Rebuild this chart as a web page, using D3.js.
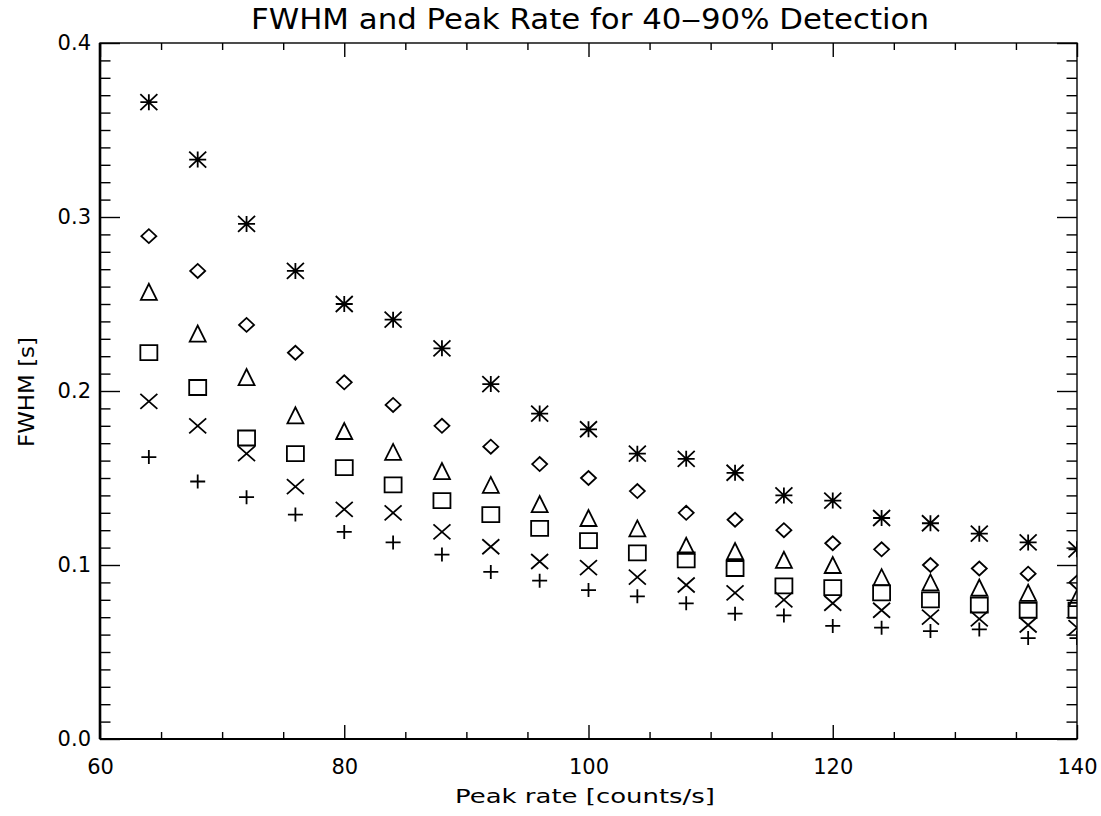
<!DOCTYPE html>
<html>
<head>
<meta charset="utf-8">
<script src="https://d3js.org/d3.v7.min.js"></script>
<style>
  body { margin: 0; background: #fff; }
  text { font-family: "DejaVu Sans", sans-serif; fill: #000; }
</style>
</head>
<body>
<svg id="chart"></svg>
<script>
// peak rate (counts/s) for every column of markers
var peakRate = [64, 68, 72, 76, 80, 84, 88, 92, 96, 100, 104, 108, 112, 116, 120, 124, 128, 132, 136, 140]

// FWHM [s] per symbol
var fwhmAsterisk = [0.366, 0.333, 0.296, 0.269, 0.250, 0.241, 0.2245, 0.204, 0.187, 0.178, 0.164, 0.161, 0.153, 0.140, 0.137, 0.127, 0.124, 0.118, 0.113, 0.109]
var fwhmDiamond  = [0.289, 0.269, 0.238, 0.222, 0.205, 0.192, 0.180, 0.168, 0.158, 0.150, 0.1425, 0.130, 0.126, 0.120, 0.1125, 0.109, 0.100, 0.098, 0.095, 0.090]
var fwhmTriangle = [0.257, 0.233, 0.208, 0.186, 0.177, 0.165, 0.154, 0.146, 0.135, 0.127, 0.121, 0.111, 0.108, 0.103, 0.100, 0.093, 0.090, 0.087, 0.084, 0.081]
var fwhmSquare   = [0.222, 0.202, 0.173, 0.164, 0.156, 0.146, 0.137, 0.129, 0.121, 0.114, 0.107, 0.103, 0.098, 0.088, 0.087, 0.084, 0.080, 0.077, 0.074, 0.074]
var fwhmCross    = [0.194, 0.180, 0.164, 0.145, 0.132, 0.130, 0.119, 0.1105, 0.102, 0.0985, 0.093, 0.0885, 0.084, 0.080, 0.078, 0.074, 0.070, 0.069, 0.0655, 0.064]
var fwhmPlus     = [0.162, 0.148, 0.139, 0.129, 0.119, 0.113, 0.106, 0.096, 0.091, 0.0856, 0.082, 0.078, 0.072, 0.071, 0.065, 0.064, 0.062, 0.063, 0.058, 0.058]

var xMajorTicks = [60, 80, 100, 120, 140]
var yMajorTicks = [0.0, 0.1, 0.2, 0.3, 0.4]

var titleText = "FWHM and Peak Rate for 40\u201290% Detection"
var xLabelText = "Peak rate [counts/s]"
var yLabelText = "FWHM [s]"

var dimensions = {
  width: 1101,
  height: 816,
  margin: { top: 43, right: 24, bottom: 77, left: 100 }
}
dimensions.boundedWidth = dimensions.width - dimensions.margin.left - dimensions.margin.right
dimensions.boundedHeight = dimensions.height - dimensions.margin.top - dimensions.margin.bottom

var series = [
  { values: fwhmAsterisk, shape: "asterisk", hx: 8.5, hy: 8 },
  { values: fwhmDiamond, shape: "diamond", hx: 7.5, hy: 7 },
  { values: fwhmTriangle, shape: "triangle", hx: 8, hy: 8 },
  { values: fwhmSquare, shape: "square", hx: 8.5, hy: 7.5 },
  { values: fwhmCross, shape: "cross", hx: 8.5, hy: 7.5 },
  { values: fwhmPlus, shape: "plus", hx: 7.5, hy: 7 }
]

function symbolPath(shape, hx, hy) {
  var plus = "M" + (-hx) + ",0H" + hx + "M0," + (-hy) + "V" + hy
  var cross = "M" + (-hx) + "," + (-hy) + "L" + hx + "," + hy + "M" + (-hx) + "," + hy + "L" + hx + "," + (-hy)
  if (shape == "plus") return plus
  if (shape == "cross") return cross
  if (shape == "asterisk") return plus + cross
  if (shape == "diamond") return "M" + (-hx) + ",0L0," + (-hy) + "L" + hx + ",0L0," + hy + "Z"
  if (shape == "triangle") return "M" + (-hx) + "," + hy + "L0," + (-hy) + "L" + hx + "," + hy + "Z"
  return "M" + (-hx) + "," + (-hy) + "H" + hx + "V" + hy + "H" + (-hx) + "Z"
}

var xScale = d3.scaleLinear()
  .domain([60, 140])
  .range([0, dimensions.boundedWidth])

var yScale = d3.scaleLinear()
  .domain([0, 0.4])
  .range([dimensions.boundedHeight, 0])

var svg = d3.select("#chart")
  .attr("width", dimensions.width)
  .attr("height", dimensions.height)

svg.append("rect")
  .attr("width", dimensions.width)
  .attr("height", dimensions.height)
  .attr("fill", "#fff")

var bounds = svg.append("g")
  .attr("transform", "translate(" + dimensions.margin.left + "," + dimensions.margin.top + ")")

bounds.append("clipPath")
  .attr("id", "plotClip")
  .append("rect")
  .attr("width", dimensions.boundedWidth)
  .attr("height", dimensions.boundedHeight)

// minor tick values
var xMinorTicks = d3.range(60, 141, 5).filter(d => d % 20 != 0)
var yMinorTicks = d3.range(0, 41, 1).filter(d => d % 10 != 0).map(d => d / 100)

function styleAxis(g) {
  g.select(".domain").remove()
  g.attr("font-family", "DejaVu Sans, sans-serif").attr("font-size", 21)
  g.selectAll("line").attr("stroke", "#000").attr("stroke-width", 1.4)
  g.selectAll("text").attr("fill", "#000")
}

// bottom
bounds.append("g")
  .attr("transform", "translate(0," + dimensions.boundedHeight + ")")
  .call(d3.axisBottom(xScale).tickValues(xMajorTicks).tickSize(-14).tickPadding(20).tickFormat(d3.format("d")))
  .call(styleAxis)
bounds.append("g")
  .attr("transform", "translate(0," + dimensions.boundedHeight + ")")
  .call(d3.axisBottom(xScale).tickValues(xMinorTicks).tickSize(-7).tickFormat(""))
  .call(styleAxis)

// top
bounds.append("g")
  .call(d3.axisTop(xScale).tickValues(xMajorTicks).tickSize(-14).tickFormat(""))
  .call(styleAxis)
bounds.append("g")
  .call(d3.axisTop(xScale).tickValues(xMinorTicks).tickSize(-7).tickFormat(""))
  .call(styleAxis)

// left
bounds.append("g")
  .call(d3.axisLeft(yScale).tickValues(yMajorTicks).tickSize(-20).tickPadding(9).tickFormat(d3.format(".1f")))
  .call(styleAxis)
bounds.append("g")
  .call(d3.axisLeft(yScale).tickValues(yMinorTicks).tickSize(-10.5).tickFormat(""))
  .call(styleAxis)

// right
bounds.append("g")
  .attr("transform", "translate(" + dimensions.boundedWidth + ",0)")
  .call(d3.axisRight(yScale).tickValues(yMajorTicks).tickSize(-20).tickFormat(""))
  .call(styleAxis)
bounds.append("g")
  .attr("transform", "translate(" + dimensions.boundedWidth + ",0)")
  .call(d3.axisRight(yScale).tickValues(yMinorTicks).tickSize(-10.5).tickFormat(""))
  .call(styleAxis)

// frame
bounds.append("rect")
  .attr("width", dimensions.boundedWidth)
  .attr("height", dimensions.boundedHeight)
  .attr("fill", "none")
  .attr("stroke", "#000")
  .attr("stroke-width", 1.4)
bounds.append("line")
  .attr("x1", 0).attr("x2", 0)
  .attr("y1", 0).attr("y2", dimensions.boundedHeight)
  .attr("stroke", "#000")
  .attr("stroke-width", 2.6)
bounds.append("line")
  .attr("x1", 0).attr("x2", dimensions.boundedWidth)
  .attr("y1", dimensions.boundedHeight).attr("y2", dimensions.boundedHeight)
  .attr("stroke", "#000")
  .attr("stroke-width", 2)

// markers
var markers = bounds.append("g").attr("clip-path", "url(#plotClip)")

series.forEach(function(s) {
  markers.selectAll(null)
    .data(peakRate.map((x, i) => [x, s.values[i]]))
    .enter()
    .append("path")
    .attr("transform", d => "translate(" + xScale(d[0]) + "," + yScale(d[1]) + ")")
    .attr("d", symbolPath(s.shape, s.hx, s.hy))
    .attr("fill", "none")
    .attr("stroke", "#000")
    .attr("stroke-width", 1.8)
})

// title and axis labels
svg.append("text")
  .attr("x", 590)
  .attr("y", 29)
  .attr("text-anchor", "middle")
  .attr("textLength", 678)
  .attr("lengthAdjust", "spacingAndGlyphs")
  .style("font-size", "29px")
  .text(titleText)

svg.append("text")
  .attr("x", 585)
  .attr("y", 803)
  .attr("text-anchor", "middle")
  .attr("textLength", 260)
  .attr("lengthAdjust", "spacingAndGlyphs")
  .style("font-size", "20px")
  .text(xLabelText)

svg.append("text")
  .attr("transform", "translate(34,392) rotate(-90)")
  .attr("text-anchor", "middle")
  .attr("textLength", 110)
  .attr("lengthAdjust", "spacingAndGlyphs")
  .style("font-size", "22px")
  .text(yLabelText)
</script>
</body>
</html>
